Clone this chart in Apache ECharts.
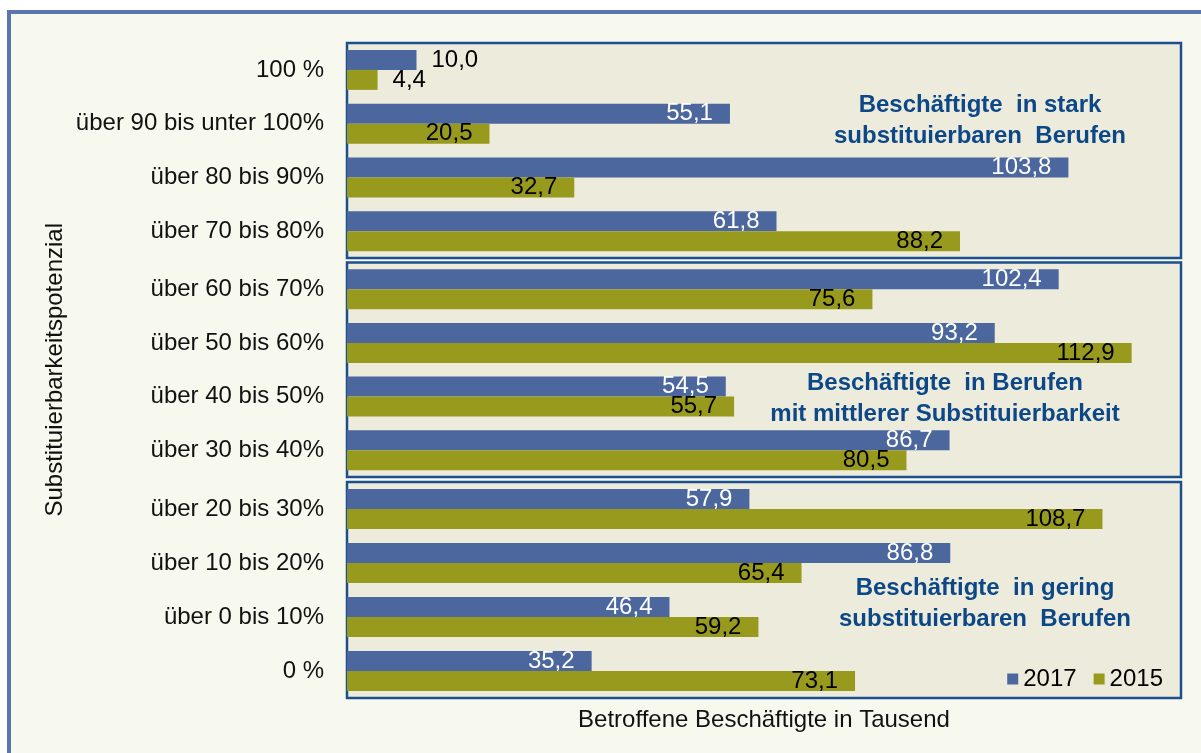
<!DOCTYPE html>
<html>
<head>
<meta charset="utf-8">
<script src="https://cdn.jsdelivr.net/npm/echarts@6/dist/echarts.min.js"></script>
<style>
  html, body { margin: 0; padding: 0; background: #fff; }
  #chart { width: 1201px; height: 753px; }
</style>
</head>
<body>
<div id="chart"></div>
<script>
// categories top to bottom, split into the three boxed groups
const categories = [
  '100 %', 'über 90 bis unter 100%', 'über 80 bis 90%', 'über 70 bis 80%',
  'über 60 bis 70%', 'über 50 bis 60%', 'über 40 bis 50%', 'über 30 bis 40%',
  'über 20 bis 30%', 'über 10 bis 20%', 'über 0 bis 10%', '0 %'
]
const values2017 = [10.0, 55.1, 103.8, 61.8, 102.4, 93.2, 54.5, 86.7, 57.9, 86.8, 46.4, 35.2]
const values2015 = [4.4, 20.5, 32.7, 88.2, 75.6, 112.9, 55.7, 80.5, 108.7, 65.4, 59.2, 73.1]
const groupTitles = [
  'Beschäftigte  in stark\nsubstituierbaren  Berufen',
  'Beschäftigte  in Berufen\nmit mittlerer Substituierbarkeit',
  'Beschäftigte  in gering\nsubstituierbaren  Berufen'
]

const FONT = "'Liberation Sans', Arial, sans-serif"
const BLUE = '#4B679E'
const OLIVE = '#989A1E'

const grids = [
  { left: 347, right: 20, top: 43, height: 215 },
  { left: 347, right: 20, top: 262.5, height: 214.5 },
  { left: 347, right: 20, top: 482, height: 216 }
]

const fmt = v => v.toFixed(1).replace('.', ',')

function barData (vals) {
  return vals.map(v => ({
    value: v,
    label: v < 15 ? { position: 'right', distance: 15, color: '#000' } : {}
  }))
}

let xAxes = []
let yAxes = []
let series = []
grids.forEach((g, i) => {
  let cats = categories.slice(i * 4, i * 4 + 4)
  xAxes.push({
    type: 'value',
    gridIndex: i,
    min: 0,
    max: 120,
    axisLine: { show: false },
    axisTick: { show: false },
    axisLabel: { show: false },
    splitLine: { show: false },
    name: i === 2 ? 'Betroffene Beschäftigte in Tausend' : '',
    nameLocation: 'middle',
    nameGap: 10,
    nameTextStyle: { fontFamily: FONT, fontSize: 24, color: '#111', verticalAlign: 'top' }
  })
  yAxes.push({
    type: 'category',
    gridIndex: i,
    inverse: true,
    data: cats,
    axisLine: { show: false },
    axisTick: { show: false },
    axisLabel: { fontFamily: FONT, fontSize: 24, color: '#111', margin: 23 },
    name: i === 1 ? 'Substituierbarkeitspotenzial' : '',
    nameLocation: 'middle',
    nameRotate: 90,
    nameGap: 280,
    nameTextStyle: { fontFamily: FONT, fontSize: 24, color: '#111' }
  })
  series.push({
    name: '2017',
    type: 'bar',
    xAxisIndex: i,
    yAxisIndex: i,
    barWidth: 20,
    barGap: '0%',
    itemStyle: { color: BLUE },
    label: {
      show: true,
      position: 'insideRight',
      distance: 17,
      formatter: p => fmt(p.value),
      fontFamily: FONT,
      fontSize: 24,
      color: '#fff'
    },
    data: barData(values2017.slice(i * 4, i * 4 + 4))
  })
  series.push({
    name: '2015',
    type: 'bar',
    xAxisIndex: i,
    yAxisIndex: i,
    barWidth: 20,
    barGap: '0%',
    itemStyle: { color: OLIVE },
    label: {
      show: true,
      position: 'insideRight',
      distance: 17,
      formatter: p => fmt(p.value),
      fontFamily: FONT,
      fontSize: 24,
      color: '#000'
    },
    data: barData(values2015.slice(i * 4, i * 4 + 4))
  })
})

const titlePos = [[980, 121], [945, 399], [985, 604]]

const chart = echarts.init(document.getElementById('chart'))
chart.setOption({
  animation: false,
  backgroundColor: '#fff',
  textStyle: { fontFamily: FONT },
  grid: grids.map(g => Object.assign({
    show: true,
    backgroundColor: '#EDEBDC',
    borderColor: '#1B4F8E',
    borderWidth: 2.5,
    containLabel: false
  }, g)),
  graphic: [
    {
      type: 'rect',
      z: -10,
      silent: true,
      shape: { x: 9, y: 12, width: 1400, height: 900 },
      style: { fill: '#F8F9EE', stroke: '#5A75B0', lineWidth: 4 }
    }
  ].concat(groupTitles.map((t, i) => ({
    type: 'text',
    z: 100,
    silent: true,
    x: titlePos[i][0],
    y: titlePos[i][1],
    style: {
      text: t,
      fill: '#0C4887',
      font: "bold 24px 'Liberation Sans', Arial, sans-serif",
      lineHeight: 31,
      textAlign: 'center',
      textVerticalAlign: 'middle'
    }
  }))),
  legend: {
    data: ['2017', '2015'],
    right: 33,
    top: 662,
    icon: 'rect',
    itemWidth: 11,
    itemHeight: 11,
    itemGap: 17,
    textStyle: { fontFamily: FONT, fontSize: 24, color: '#000' }
  },
  xAxis: xAxes,
  yAxis: yAxes,
  series: series
})
</script>
</body>
</html>
